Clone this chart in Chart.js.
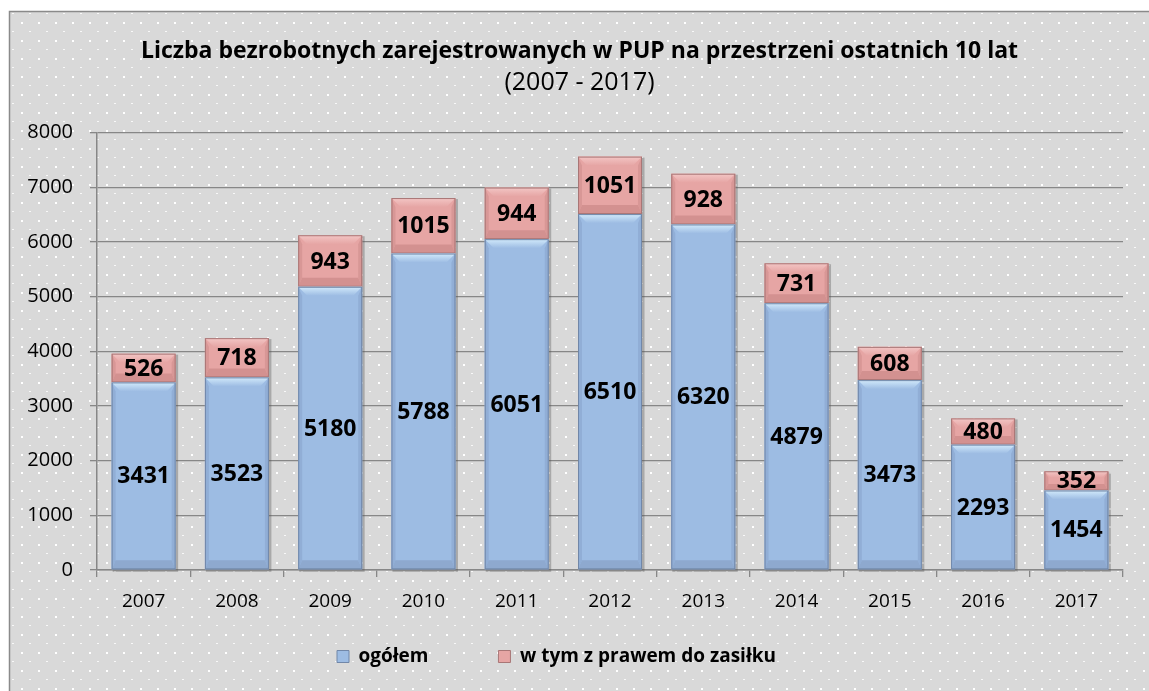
<!DOCTYPE html>
<html>
<head>
<meta charset="utf-8">
<script src="https://cdn.jsdelivr.net/npm/chart.js@4.4.1/dist/chart.umd.min.js"></script>
<style>
html,body{margin:0;padding:0;background:#fff;}
canvas{display:block;}
</style>
</head>
<body>
<canvas id="c" width="1149" height="691"></canvas>
<script>
const years = ['2007','2008','2009','2010','2011','2012','2013','2014','2015','2016','2017'];
const ogolem = [3431,3523,5180,5788,6051,6510,6320,4879,3473,2293,1454];
const zasilek = [526,718,943,1015,944,1051,928,731,608,480,352];
const seriesNames = ['ogółem','w tym z prawem do zasiłku'];
const titleText = 'Liczba bezrobotnych zarejestrowanych w PUP na przestrzeni ostatnich 10 lat';
const subtitleText = '(2007 - 2017)';

const FONT = '"Open Sans", Lato, sans-serif';
const GRID = '#878787';
const palette = [
  {main:'#9dbce3', light:'#d2eafb', dark:'#91aed6', bottom:'#8ea9cf', edge:'#7187a8'},
  {main:'#e6a5a4', light:'#f3c6c5', dark:'#d89796', bottom:'#d39190', edge:'#a87676'}
];

function makePattern(ctx){
  const t = document.createElement('canvas');
  t.width = 17; t.height = 18;
  const g = t.getContext('2d');
  g.fillStyle = '#d9d9d9'; g.fillRect(0,0,17,18);
  g.fillStyle = '#ffffff'; g.fillRect(4,4,2,2);
  g.fillStyle = 'rgba(255,255,255,0.8)'; g.fillRect(12,13,2,1);
  return ctx.createPattern(t,'repeat');
}

const bgPlugin = {
  id:'bg',
  beforeDraw(chart){
    const ctx = chart.ctx;
    ctx.save();
    ctx.fillStyle = '#ffffff';
    ctx.fillRect(0,0,chart.width,chart.height);
    ctx.fillStyle = makePattern(ctx);
    ctx.fillRect(9,11,chart.width-9,chart.height-11);
    ctx.strokeStyle = '#8a8a8a';
    ctx.lineWidth = 1.5;
    ctx.beginPath();
    ctx.moveTo(9.5,chart.height); ctx.lineTo(9.5,11.5); ctx.lineTo(chart.width,11.5);
    ctx.stroke();
    ctx.restore();
  }
};

const boxPos = {
  id:'boxPos',
  afterLayout(chart){
    const lg = chart.legend;
    if(lg){
      lg.left -= 10; lg.right -= 10;
      lg.top = 577; lg.bottom = chart.height; lg.height = lg.bottom - lg.top;
    }
    const t = chart.titleBlock;
    if(t){ t.left += 13; t.right += 13; }
    const boxes = chart.boxes || [];
    boxes.forEach(b => {
      if(b !== t && b.options && b.options.text === subtitleText){ b.left += 13; b.right += 13; }
    });
  }
};

const shadowPlugin = {
  id:'barShadow',
  beforeDatasetsDraw(chart){
    const ctx = chart.ctx;
    ctx.save();
    ctx.fillStyle = 'rgba(80,80,80,0.35)';
    const m0 = chart.getDatasetMeta(0), m1 = chart.getDatasetMeta(1);
    m0.data.forEach((el,i) => {
      const top = m1.data[i] ? Math.min(m1.data[i].y, el.y) : el.y;
      const w = el.width;
      ctx.fillRect(el.x - w/2 + 1, top + 1, w + 1.5, el.base - top + 1.5);
    });
    ctx.restore();
  }
};

const bevelPlugin = {
  id:'bevel',
  afterDatasetDraw(chart, args){
    const ctx = chart.ctx;
    const p = palette[args.index];
    const meta = args.meta;
    ctx.save();
    meta.data.forEach(el => {
      const w = el.width;
      const l = el.x - w/2, r = el.x + w/2;
      const top = Math.min(el.y, el.base), bot = Math.max(el.y, el.base);
      const h = bot - top;
      const b = Math.min(9, h/3);
      const s = 4;
      ctx.fillStyle = p.dark;
      ctx.beginPath();
      ctx.moveTo(l,top); ctx.lineTo(l+s,top+b); ctx.lineTo(l+s,bot-b); ctx.lineTo(l,bot); ctx.closePath(); ctx.fill();
      ctx.beginPath();
      ctx.moveTo(r,top); ctx.lineTo(r-s,top+b); ctx.lineTo(r-s,bot-b); ctx.lineTo(r,bot); ctx.closePath(); ctx.fill();
      ctx.fillStyle = p.bottom;
      ctx.beginPath();
      ctx.moveTo(l,bot); ctx.lineTo(l+s,bot-b); ctx.lineTo(r-s,bot-b); ctx.lineTo(r,bot); ctx.closePath(); ctx.fill();
      const g = ctx.createLinearGradient(0, top, 0, top + b);
      g.addColorStop(0, p.light); g.addColorStop(1, p.main);
      ctx.fillStyle = g;
      ctx.beginPath();
      ctx.moveTo(l,top); ctx.lineTo(r,top); ctx.lineTo(r-b,top+b); ctx.lineTo(l+b,top+b); ctx.closePath(); ctx.fill();
      ctx.strokeStyle = p.edge;
      ctx.lineWidth = 1;
      ctx.strokeRect(l+0.5, top+0.5, w-1, h-1);
    });
    ctx.restore();
  }
};

const labelPlugin = {
  id:'valueLabels',
  afterDatasetsDraw(chart){
    const ctx = chart.ctx;
    ctx.save();
    ctx.font = 'bold 23px ' + FONT;
    ctx.fillStyle = '#000';
    ctx.textAlign = 'center';
    ctx.textBaseline = 'middle';
    chart.data.datasets.forEach((ds, di) => {
      const meta = chart.getDatasetMeta(di);
      meta.data.forEach((el, i) => {
        ctx.fillText(String(ds.data[i]), el.x, (el.y + el.base)/2 + 1);
      });
    });
    ctx.restore();
  }
};

new Chart(document.getElementById('c'), {
  type:'bar',
  data:{
    labels: years,
    datasets:[
      {label: seriesNames[0], data: ogolem, backgroundColor: palette[0].main, borderWidth:0},
      {label: seriesNames[1], data: zasilek, backgroundColor: palette[1].main, borderWidth:0}
    ]
  },
  options:{
    responsive:false,
    animation:false,
    devicePixelRatio:1,
    layout:{padding:{left:10, right:26, top:38, bottom:0}},
    datasets:{bar:{categoryPercentage:1, barPercentage:0.686}},
    scales:{
      x:{
        stacked:true,
        grid:{display:true, drawOnChartArea:false, drawTicks:true, tickLength:7, color:GRID, lineWidth:1.3},
        border:{color:GRID, width:1.5},
        ticks:{font:{family:FONT, size:19}, color:'#000', padding:13},
        afterFit(s){ s.height = 50; }
      },
      y:{
        stacked:true, min:0, max:8000,
        grid:{color:GRID, lineWidth:1.3, tickLength:7},
        border:{color:GRID, width:1.5},
        ticks:{stepSize:1000, font:{family:FONT, size:20}, color:'#000', padding:17,
          callback:(v)=>String(v)},
        afterFit(s){ s.width = 87; }
      }
    },
    plugins:{
      title:{display:true, text:titleText, color:'#000', font:{family:FONT, size:23, weight:'bold', lineHeight:1.2}, padding:{top:0, bottom:2}},
      subtitle:{display:true, text:subtitleText, color:'#000', font:{family:FONT, size:25, weight:'normal', lineHeight:1.2}, padding:{top:0, bottom:35}},
      legend:{
        display:true, position:'bottom', maxHeight:71,
        labels:{
          font:{family:FONT, size:19, weight:'bold'}, color:'#000',
          boxWidth:12, boxHeight:12, padding:70,
          generateLabels(chart){
            return chart.data.datasets.map((ds,i)=>({
              text: ds.label, fillStyle: palette[i].main, strokeStyle: palette[i].edge,
              lineWidth:1, hidden:false, datasetIndex:i
            }));
          }
        }
      },
      tooltip:{enabled:false}
    }
  },
  plugins:[bgPlugin, boxPos, shadowPlugin, bevelPlugin, labelPlugin]
});
</script>
</body>
</html>
